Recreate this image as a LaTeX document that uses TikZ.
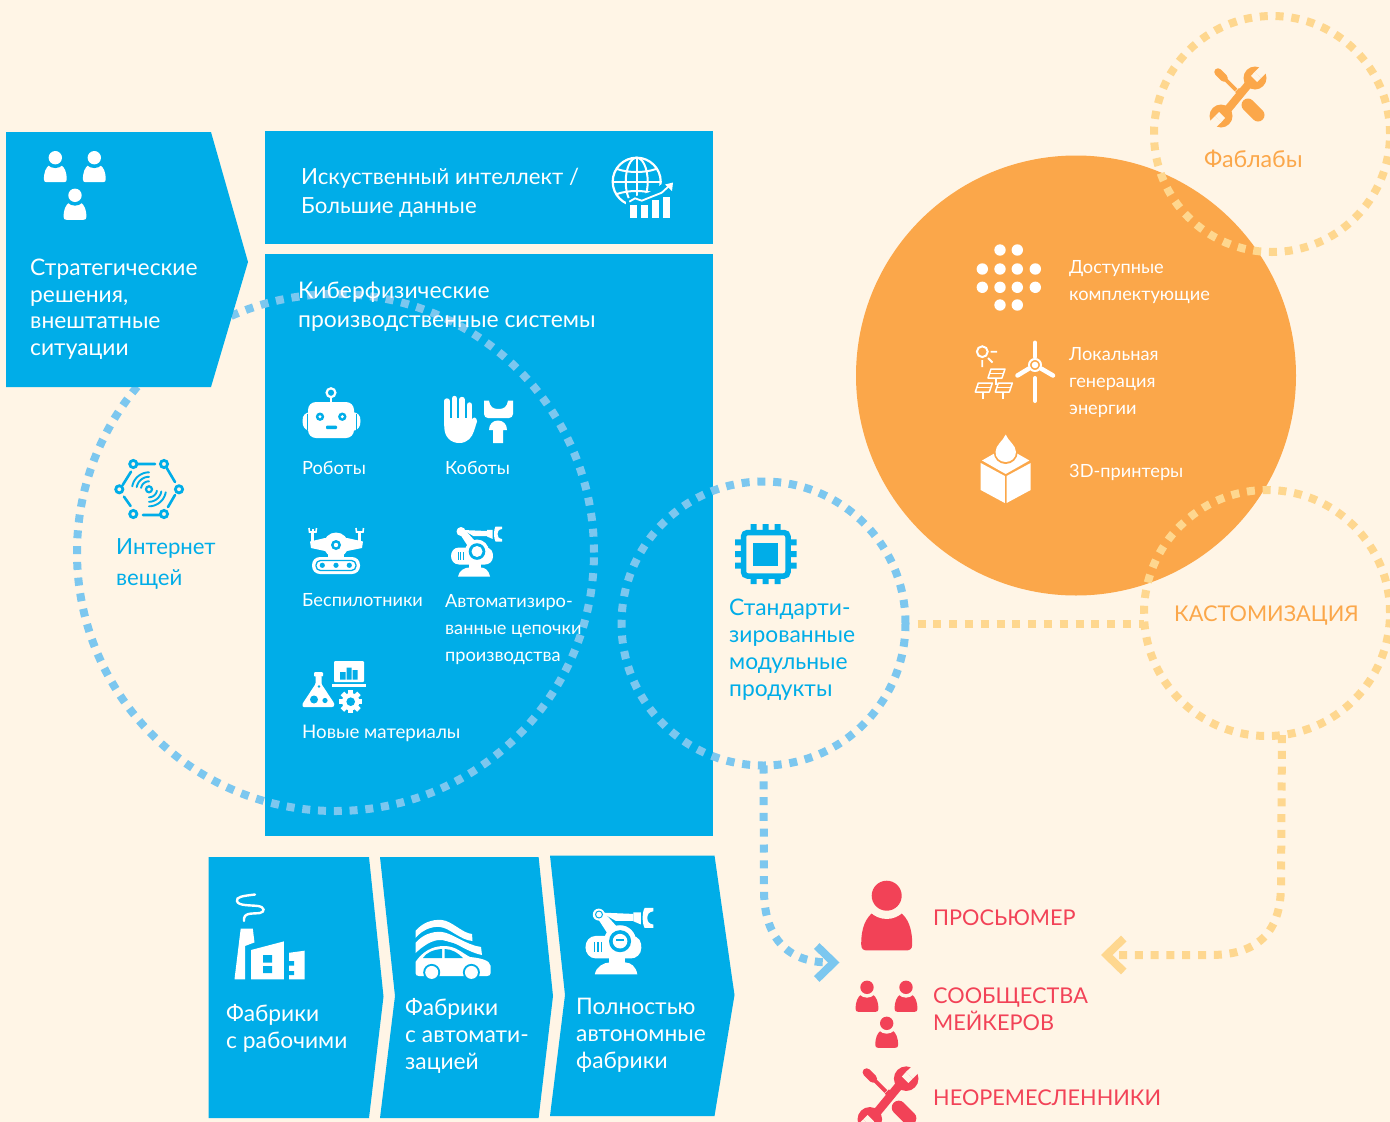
\documentclass[tikz,border=0pt]{standalone}
\usepackage{fontspec}
\setmainfont{Lato}
\usetikzlibrary{arrows.meta,calc}
\definecolor{bgc}{HTML}{FFF5E6}
\definecolor{bluec}{HTML}{00ADE8}
\definecolor{dotb}{HTML}{7CC7EF}
\definecolor{orc}{HTML}{FBA74A}
\definecolor{doto}{HTML}{FED78F}
\definecolor{redc}{HTML}{F24257}
\tikzset{
  panel/.style={fill=bluec,draw=none},
  dotsb/.style={draw=dotb,line width=8pt,dash pattern=on 8pt off 7.8pt},
  dotso/.style={draw=doto,line width=8pt,dash pattern=on 8pt off 7.8pt},
  ring/.style={circle,inner sep=0pt,outer sep=0pt,fill=none},
  big/.style={inner sep=0pt,align=left,anchor=base west,font=\fontsize{22.8}{26.7}\selectfont},
  wide/.style={inner sep=0pt,align=left,anchor=base west,font=\fontsize{22.6}{29}\selectfont},
  small/.style={inner sep=0pt,align=left,anchor=base west,font=\fontsize{18.2}{27.2}\selectfont},
  caps/.style={inner sep=0pt,align=left,anchor=base west,font=\fontsize{21.7}{26.7}\selectfont},
}
\newcommand{\mypers}[5]{%
\begin{scope}[shift={(#1,#2)},scale=#3]
\fill[#4] (-1.7,3.25) .. controls (-1.7,2.1) and (-1.4,1.5) .. (-0.9,1.1) -- (0.9,1.1) .. controls (1.4,1.5) and (1.7,2.1) .. (1.7,3.25) .. controls (1.7,3.55) and (1.55,3.65) .. (1.3,3.65) -- (-1.3,3.65) .. controls (-1.55,3.65) and (-1.7,3.55) .. (-1.7,3.25) -- cycle;
\fill[#5] (0,0) circle (1.55);
\fill[#4] (0,0) circle (1);
\end{scope}}
\newcommand{\mytools}[5]{%
\begin{scope}[shift={(#1,#2)},scale=#3]
\draw[#4,line width=#3*8pt] (14,-17) -- (-14,17);
\fill[#4] (17,-19) circle (11.5);
\fill[#4] (-17,19) circle (11.5);
\fill[#5] (17,-25.5) -- (23,-19) -- (19,-15) -- (13,-21) -- cycle;
\fill[#5] (17,-25.5) -- (23,-19) -- (33,-29) -- (27,-35) -- cycle;
\fill[#5] (-17,25.5) -- (-23,19) -- (-19,15) -- (-13,21) -- cycle;
\fill[#5] (-17,25.5) -- (-23,19) -- (-33,29) -- (-27,35) -- cycle;
\draw[#4,line width=#3*13pt,line cap=round] (10,8) -- (20,18);
\fill[#4] (3,-3) ++(-6,-2) -- ++(4,-4) -- ++(5,5) -- ++(-4,4) -- cycle;
\draw[#4,line width=#3*3.6pt] (-2,-7) -- (-13,-18);
\draw[#4,line width=#3*7.5pt,line cap=round] (-14,-19) -- (-20,-25);
\end{scope}}
\newcommand{\myarm}[5]{%
\begin{scope}[shift={(#1,#2)},scale=#3]
\fill[#4] (-13,-8) -- (13,-8) .. controls (20,-8) and (21,-3) .. (21,1) .. controls (21,6) and (17,9) .. (13,9) -- (-13,9) .. controls (-18,9) and (-21,5) .. (-21,0.5) .. controls (-21,-4) and (-18,-8) .. (-13,-8) -- cycle;
\fill[#4] (-3,8) rectangle (9,13);
\fill[#4] (-14,21) .. controls (-13,15) and (-7,12) .. (-3,12) -- (9,12) .. controls (13,12) and (17,15) .. (18,21) -- cycle;
\foreach \vx in {-14,-11.5,-9} \draw[#5,line width=#3*1pt] (\vx,-3.5) -- (\vx,4);
\fill[#4] (-13,-23) -- (-7,-25.6) -- (7,-10) -- (-2,-6) -- cycle;
\fill[#4] (-11,-24) circle (4.5);
\fill[#4] (-9,-25.5) -- (15,-24.5) -- (15,-19.3) -- (1.7,-19.3) -- cycle;
\fill[#4] (15,-25.6) -- (20.6,-25.6) -- (20.6,-16.6) -- (15,-19) -- cycle;
\fill[#4] (23.5,-29) -- (30,-29) -- (30,-26.5) .. controls (26.5,-26) and (25.5,-24) .. (25.5,-21.5) .. controls (25.5,-19) and (26.5,-17) .. (30,-16.5) -- (30,-14) -- (23.5,-14) .. controls (21.5,-17) and (21.5,-26) .. (23.5,-29) -- cycle;
\fill[#4] (5,-4) circle (12);
\fill[#5] (5,-4) circle (8.3);
\fill[#4] (5,-4) circle (5.5);
\end{scope}}
\newcommand{\mypanelicon}[2]{%
\draw[white,line width=1.5pt,line join=round] (#1-5,#2-6) -- (#1+9,#2-6) -- (#1+6,#2+3) -- (#1-8,#2+3) -- cycle;
\draw[white,line width=1.2pt] (#1-6,#2-1.5) -- (#1+8,#2-1.5);
\draw[white,line width=1.8pt] (#1,#2+3) -- (#1,#2+10);}
\begin{document}
\begin{tikzpicture}[x=1pt,y=-1pt]
\useasboundingbox (0,0) rectangle (1390,1122);
\fill[bgc] (0,0) rectangle (1390,1122);

% orange disc
\fill[orc] (1076,375.5) circle (220);

% blue panels
\fill[panel] (265,131) rectangle (713,244);
\fill[panel] (265,254) rectangle (713,836);
\fill[panel] (208.6,857) -- (369,857) -- (383.5,996.5) -- (369,1118) -- (208.6,1118) -- cycle;
\fill[panel] (380,857) -- (538.6,857) -- (553,996) -- (538.6,1118) -- (380,1118) -- (395,996) -- cycle;
\fill[panel] (550,855.5) -- (714.5,855.5) -- (734.5,995) -- (714.5,1116) -- (550,1116) -- (565,995) -- cycle;

% dotted rings
\node[ring,dotsb,minimum size=517pt] (iot) at (335.5,552.5) {};
\node[ring,dotsb,minimum size=284pt] (std) at (763.5,623.5) {};
\node[ring,dotso,minimum size=236pt] (fab) at (1272,134) {};
\node[ring,dotso,minimum size=246pt] (cust) at (1267,613) {};

% connectors
\draw[dotso] ($(std.east)+(12,0)$) -- (std.east -| cust.west);
\coordinate (tipb) at (839.5,962.5);
\coordinate (tipo) at (1101,955);
\draw[dotsb,-{Straight Barb[length=17pt,width=33pt,line width=8pt]}] (std.south) -- (764,890) .. controls (764,935) and (785,962.5) .. (tipb);
\draw[dotso,-{Straight Barb[length=17pt,width=33pt,line width=8pt]}] (cust.-83.5) -- (1281,885) .. controls (1281,935) and (1255,955) .. (1210,955) -- (tipo);

% strategic chevron
\fill[panel] (6,132) -- (211,132) -- (248,262) -- (211,387) -- (6,387) -- cycle;
\mypers{55.3}{157.7}{6.7}{white}{bluec}
\mypers{94.3}{157.7}{6.7}{white}{bluec}
\mypers{75}{195.3}{6.7}{white}{bluec}
\node[big,text=white] (tstrat) at (30,355.5) {Стратегические\\решения,\\внештатные\\ситуации};

% AI box
\node[wide,text=white,font=\fontsize{22.2}{29}\selectfont] (tai) at (301,213) {Искуственный интеллект /\\Большие данные};
% globe
\begin{scope}
\draw[white,line width=2.2pt] (636.7,181.7) circle (24);
\draw[white,line width=2pt] (636.7,181.7) ellipse (11 and 24);
\draw[white,line width=2pt] (636.7,157.7) -- (636.7,205.7);
\draw[white,line width=2pt] (612.7,181.7) -- (660.7,181.7);
\draw[white,line width=2pt] (617,169) .. controls (628,173) and (645,173) .. (656,169);
\draw[white,line width=2pt] (617,194) .. controls (628,190) and (645,190) .. (656,194);
\fill[bluec] (626,199) -- (650,192) -- (668,180) -- (676,180) -- (676,222) -- (626,222) -- cycle;
\fill[white] (630,205) rectangle (637.3,218.3);
\fill[white] (640.7,205) rectangle (648,218.3);
\fill[white] (651.7,200) rectangle (659.3,218.3);
\fill[white] (662.7,197) rectangle (670,218.3);
\draw[white,line width=1.8pt] (629.3,201.7) -- (635,198.3) -- (641.7,200.7) -- (651.7,196.7) -- (661.7,192.7) -- (669,186);
\fill[white] (673,182.5) -- (672,191) -- (665,184.5) -- cycle;
\end{scope}

% CPS text
\node[wide,text=white,font=\fontsize{22.9}{29}\selectfont] (tcps) at (298,327) {Киберфизические\\производственные системы};

% robot
\draw[white,line width=2pt] (331,397) -- (331,403);
\draw[white,line width=2.2pt] (331,392.7) circle (4.4);
\fill[white] (302.5,421) .. controls (302.5,415) and (305,413) .. (310,412) -- (310,431) .. controls (305,430) and (302.5,427) .. (302.5,421) -- cycle;
\fill[white] (360.5,421) .. controls (360.5,415) and (358,413) .. (353,412) -- (353,431) .. controls (358,430) and (360.5,427) .. (360.5,421) -- cycle;
\draw[bluec,line width=1pt] (307,413.5) -- (307,429.5) (356,413.5) -- (356,429.5);
\fill[white,rounded corners=8pt] (308,402) rectangle (354,438);
\fill[bluec] (320,416.7) circle (4.2) (342.3,416.7) circle (4.2);
\fill[white] (320,416.7) circle (1.7) (342.3,416.7) circle (1.7);
\fill[bluec,rounded corners=1pt] (326,425.5) rectangle (337,429);
\node[small,text=white] (trob) at (302,474.5) {Роботы};

% cobot
\draw[white,line width=5.4pt,line cap=round] (447,401) -- (447,425) (454.5,398.5) -- (454.5,425) (462,399.5) -- (462,425) (469.5,405) -- (469.5,425);
\fill[white] (444.3,418) -- (444.3,427) .. controls (444.3,437) and (451,443) .. (459,443) .. controls (468,443) and (472,437) .. (474,431) -- (477,421.5) .. controls (477,417) and (473,416) .. (472,420) -- (472,418) -- cycle;
\fill[white] (484,400.7) -- (489,400.7) .. controls (490,407) and (493,409) .. (498.5,409) .. controls (504,409) and (507,407) .. (508,400.7) -- (513,400.7) -- (513,414) .. controls (513,416.5) and (511,418) .. (509,418) -- (488,418) .. controls (486,418) and (484,416.5) .. (484,414) -- cycle;
\fill[white] (493,443) -- (493,430) -- (489,430) .. controls (489,424) and (493,420.5) .. (498,420.5) .. controls (503,420.5) and (507,424) .. (507,430) -- (503,430) -- (503,443) -- cycle;
\node[small,text=white] (tcob) at (445,474.5) {Коботы};

% drone
\fill[white] (312,528.5) -- (314,528.5) -- (314,533) -- (312,533) -- cycle;
\draw[white,line width=1.6pt] (309,528) -- (309.5,532) -- (316,532) -- (316.5,528);
\draw[white,line width=1.6pt] (356,528) -- (356.5,532) -- (363,532) -- (363.5,528);
\draw[white,line width=3pt] (312.7,533) -- (312.7,546) (359.8,533) -- (359.8,546);
\fill[white] (310,541.5) -- (325,538) -- (347,538) -- (363,541.5) -- (362,548) -- (347,551) -- (325,551) -- (311,548) -- cycle;
\fill[white] (336,545) circle (12.5);
\fill[bluec] (336,545) circle (5);
\fill[white] (336,545) circle (2.2);
\fill[white] (328,553) rectangle (344,559);
\fill[white,rounded corners=8pt] (312,557) rectangle (360,574);
\draw[bluec,line width=1.3pt,rounded corners=4.5pt] (316,560.5) rectangle (356,570.5);
\fill[bluec] (322.3,565.3) circle (2.6) (336,565.3) circle (2.6) (349.3,565.3) circle (2.6);
\node[small,text=white] (tdro) at (302,606.5) {Беспилотники};

% automated chain
\myarm{472}{555.5}{1}{white}{bluec}
\node[small,text=white] (tauto) at (445,661.5) {Автоматизиро-\\ванные цепочки\\производства};

% new materials
\fill[white,rounded corners=1pt] (314,672) rectangle (323,676.5);
\fill[white,rounded corners=1pt] (315.5,676) -- (321.5,676) -- (321.5,684) -- (334,703) .. controls (335,706) and (333,707) .. (331,707) -- (305,707) .. controls (303,707) and (301.5,706) .. (303,703) -- (315.5,684) -- cycle;
\fill[bluec] (314,699.5) circle (4) (325,700.5) circle (2.6) (319,686.5) circle (1.3);
\fill[white,rounded corners=1pt] (334,661) rectangle (364,682);
\fill[white] (332,684) rectangle (366,686.5);
\fill[bluec] (340,672) rectangle (345.5,679.5) (346.5,667.5) rectangle (351.5,679.5) (352.5,670) rectangle (357.5,679.5);
\foreach \ga in {0,45,...,315} \fill[white,rotate around={\ga:(350.7,701.7)}] (348.2,690) rectangle (353.2,696);
\fill[white] (350.7,701.7) circle (8.7);
\fill[bluec] (350.7,701.7) circle (4.3);
\node[small,text=white,font=\fontsize{18.7}{27.2}\selectfont] (tmat) at (302,738.5) {Новые материалы};

% IoT icon
\foreach \px/\py in {133.3/464,164/464,179/489.3,164/514,133.3/514,119.3/489.3}
  \draw[bluec,line width=2.8pt] (\px,\py) circle (3.6);
\draw[bluec,line width=2.6pt,line cap=round] (137,464) -- (155,464) (166.7,468) -- (175,482) (175,495) -- (168,507) (160,515) -- (143,515) (130.6,506) -- (124,496.7) (122.7,485) -- (131,471.7);
\draw[bluec,line width=2.2pt] (149,489.3) circle (3);
\foreach \rr in {8,12.5,17} {
  \draw[bluec,line width=1.9pt,line cap=round,domain=190:270,samples=14] plot ({149+\rr*cos(\x)},{489.3+\rr*sin(\x)});
  \draw[bluec,line width=1.9pt,line cap=round,domain=10:90,samples=14] plot ({149+\rr*cos(\x)},{489.3+\rr*sin(\x)});
}
\node[wide,text=bluec,font=\fontsize{22.2}{30.5}\selectfont] (tiot) at (116,585) {Интернет\\вещей};

% chip icon
\draw[bluec,line width=5.5pt,rounded corners=4pt] (743.5,532.5) rectangle (788,576);
\fill[bluec] (753,542.5) rectangle (778,566);
\foreach \cc in {753.5,765.7,777.7} \fill[bluec] (\cc-3,524) rectangle (\cc+3,532) (\cc-3,576) rectangle (\cc+3,584);
\foreach \cc in {542.3,554,565.7} \fill[bluec] (735,\cc-3) rectangle (743,\cc+3) (788,\cc-3) rectangle (796.5,\cc+3);
\node[big,text=bluec] (tstd) at (729,696) {Стандарти-\\зированные\\модульные\\продукты};

% fablab
\mytools{1238}{97}{1}{orc}{bgc}
\node[big,text=orc,font=\fontsize{23.3}{26.7}\selectfont] (tfab) at (1204,167.5) {Фаблабы};

% dots grid
\foreach \gx/\gy in {1000/250,1017.3/250,982.3/269,1000/269,1017.3/269,1035.3/269,982.3/287.3,1000/287.3,1017.3/287.3,1035.3/287.3,1000/305,1017.3/305}
  \fill[white] (\gx,\gy) circle (5.7);
\node[small,text=white] (tparts) at (1069,300.5) {Доступные\\комплектующие};

% energy icon
\draw[white,line width=2pt] (982.3,351.7) circle (5.4);
\draw[white,line width=1.8pt] (990.5,351.7) -- (997,351.7) (982.3,360) -- (982.3,367) (988,358) -- (992.5,362.5);
\mypanelicon{996}{375}
\mypanelicon{983.3}{389}
\mypanelicon{1003.3}{389}
\draw[white,line width=4pt,line cap=round] (1035,342.5) -- (1035,357) (1035,378) -- (1035,401);
\draw[white,line width=4.5pt,line cap=round] (1029,368.5) -- (1017.5,375.5) (1041,368.5) -- (1053,375.5);
\draw[white,line width=2pt] (1035,365) circle (6);
\fill[white] (1035,365) circle (3.3);
\node[small,text=white] (tlocal) at (1069,414.5) {Локальная\\генерация\\энергии};

% 3d printer
\fill[white] (980.7,463) -- (1004.8,476) -- (1004.8,503) -- (980.7,490) -- cycle;
\fill[white] (1030.7,463) -- (1006.6,476) -- (1006.6,503) -- (1030.7,490) -- cycle;
\fill[white] (982,460.5) -- (1005.7,447) -- (1029.4,460.5) -- (1005.7,474) -- cycle;
\fill[orc] (1005.7,452) circle (12);
\fill[white] (1005.7,434.5) .. controls (1008,441) and (1016,445) .. (1016,452) .. controls (1016,458) and (1011,462) .. (1005.7,462) .. controls (1000,462) and (995.5,458) .. (995.5,452) .. controls (995.5,445) and (1003,441) .. (1005.7,434.5) -- cycle;
\node[small,text=white] (t3d) at (1069,477) {3D-принтеры};

% customization
\node[caps,text=orc] (tcust) at (1174,621) {КАСТОМИЗАЦИЯ};

% consumers
\mypers{886.7}{895.7}{15}{redc}{bgc}
\node[caps,text=redc] (tpro) at (933,925) {ПРОСЬЮМЕР};
\mypers{867}{987.3}{6.7}{redc}{bgc}
\mypers{906}{987.3}{6.7}{redc}{bgc}
\mypers{886.7}{1023.3}{6.7}{redc}{bgc}
\node[caps,text=redc] (tmak) at (933,1030) {СООБЩЕСТВА\\МЕЙКЕРОВ};
\mytools{888}{1099}{1.07}{redc}{bgc}
\node[caps,text=redc] (tneo) at (933,1105) {НЕОРЕМЕСЛЕННИКИ};

% factory with workers
\draw[white,line width=2.4pt,line cap=round] (255,894.5) .. controls (242,896) and (236,897) .. (237,901) .. controls (238,906) and (250,905) .. (258,906) .. controls (265,907) and (265,912) .. (260,913) .. controls (252,914) and (243,912) .. (244,921);
\fill[white] (234.5,979.3) -- (240.7,928.6) -- (252.8,928.6) -- (254.5,942.4) -- (245,946) -- (245,979.3) -- cycle;
\fill[white] (251,950) -- (283.8,941.4) -- (283.8,979.3) -- (251,979.3) -- cycle;
\fill[bluec] (263,955) rectangle (272,962.5) (263,966) rectangle (272,973);
\fill[white] (289,952.8) -- (304.5,950.7) -- (304.5,979.3) -- (289,979.3) -- cycle;
\fill[bluec] (289,961) rectangle (294,965.5) (289,971) rectangle (294,975);
\node[big,text=white] (tfw) at (226,1048) {Фабрики\\с рабочими};

% factory with automation
\fill[white] (415.5,931) .. controls (422,923) and (432,919) .. (442,920) .. controls (452,921) and (462,933) .. (472,934) -- (472.5,941) .. controls (460,940) and (450,928) .. (440,927) .. controls (432,926) and (422,930) .. (415.5,938) -- cycle;
\fill[white] (415.5,943) .. controls (422,935) and (432,931) .. (442,932) .. controls (452,933) and (466,945) .. (481,947) -- (482,955) .. controls (470,953) and (455,942) .. (442,940) .. controls (432,939) and (422,947) .. (415.5,953) -- cycle;
\fill[bluec] (418,952) .. controls (426,944) and (436,942) .. (446,942) .. controls (456,942) and (462,948) .. (468,951) -- (470,962) -- (418,962) -- cycle;
\fill[white] (415.5,973) -- (415.5,962) .. controls (422,952) and (432,946) .. (444,946) .. controls (456,946) and (462,953) .. (470,957) .. controls (480,958) and (490,960) .. (490.7,966) -- (490.7,973) .. controls (490.7,975) and (489,976) .. (487,976) -- (419,976) .. controls (417,976) and (415.5,975) .. (415.5,973) -- cycle;
\fill[bluec] (423,958) .. controls (426,953) and (433,949.5) .. (442,949) -- (442,958) -- cycle;
\fill[bluec] (444.5,949) .. controls (452,949) and (458,953) .. (463,958) -- (444.5,958) -- cycle;
\fill[bluec] (431.7,972.4) circle (8.5) (471.4,972.4) circle (8.5);
\fill[white] (431.7,972.4) circle (6.5) (471.4,972.4) circle (6.5);
\node[big,text=white] (tfa) at (405,1069) {Фабрики\\с автомати-\\зацией};

% autonomous factory
\myarm{613.4}{946.5}{1.33}{white}{bluec}
\fill[bluec] (599,914.5) circle (4);
\fill[white] (599,914.5) circle (2.8);
\fill[bluec] (615.5,939.2) rectangle (624,941.2);
\node[big,text=white] (tfull) at (576,1068) {Полностью\\автономные\\фабрики};
\end{tikzpicture}
\end{document}
